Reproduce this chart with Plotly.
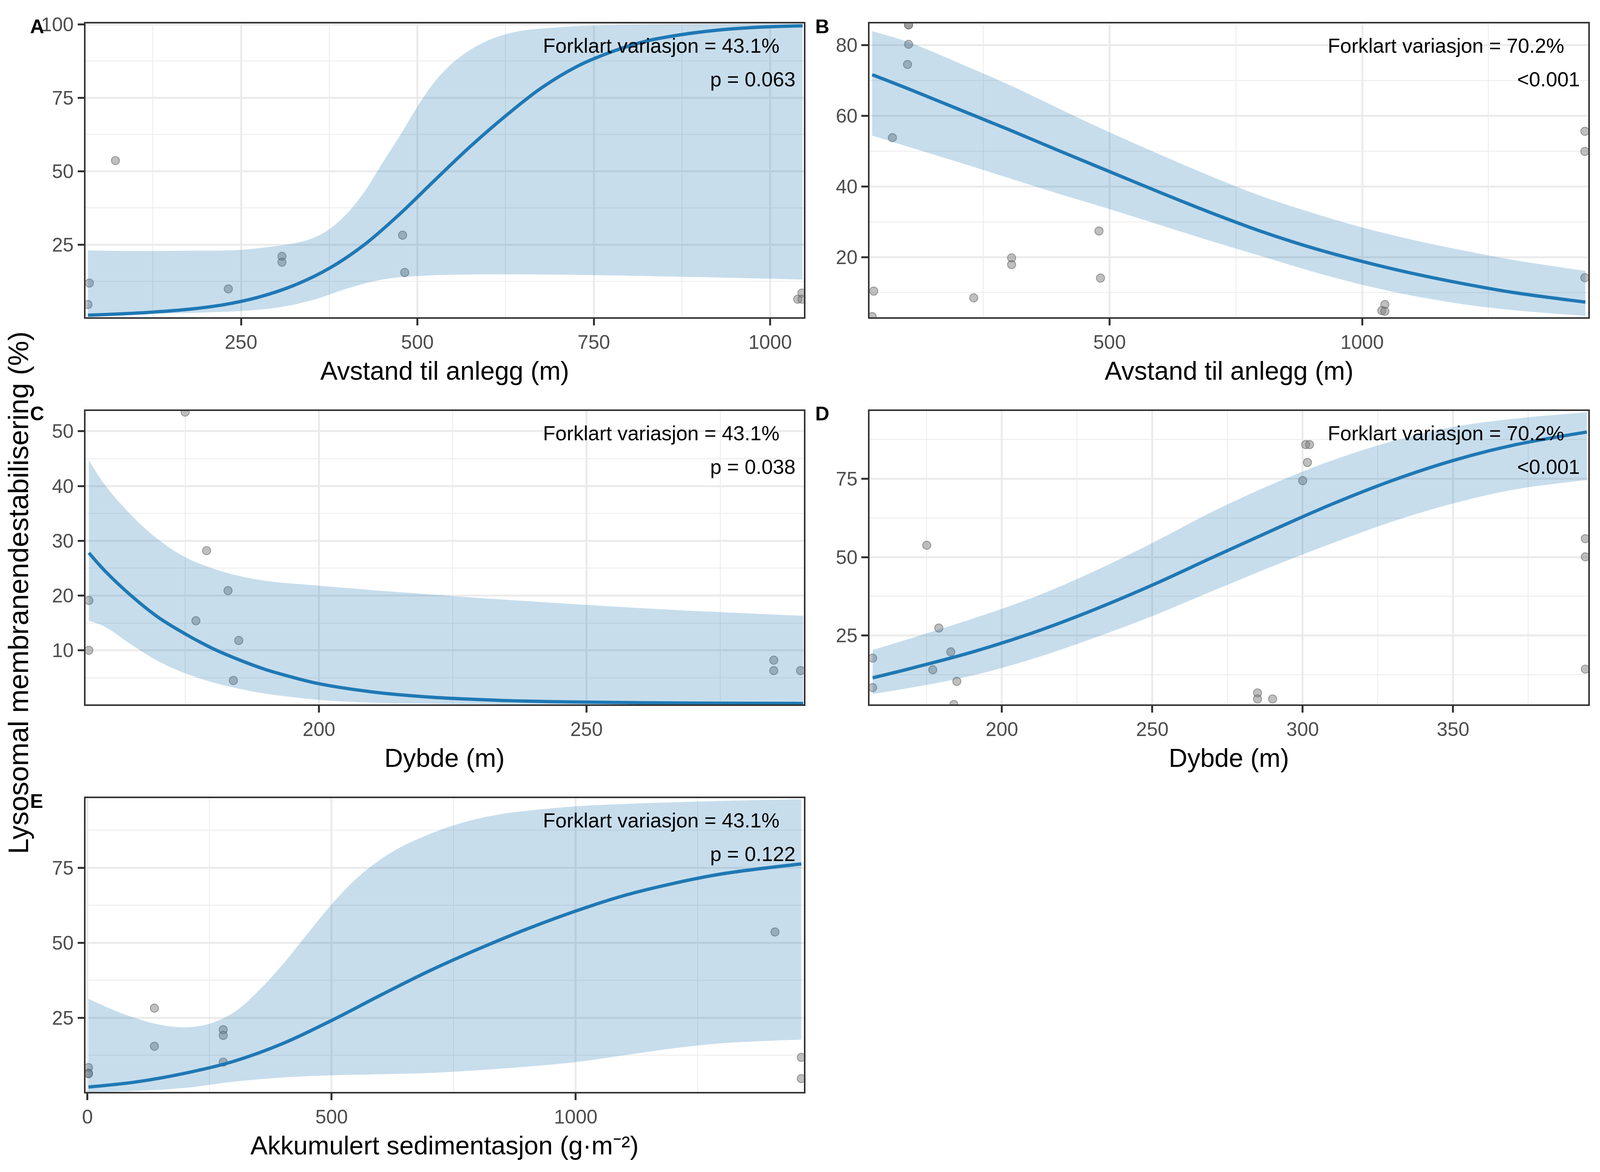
import plotly.graph_objects as go

# ---------------- data ----------------
# Panel A: Avstand til anlegg (m)
a_pts_x = [33, 35, 72, 232, 308, 308, 479, 482, 1039, 1045, 1045]
a_pts_y = [4.6, 11.9, 53.6, 9.9, 21.0, 19.0, 28.2, 15.5, 6.4, 8.5, 6.4]
a_fit_x = [33, 75, 125, 175, 225, 275, 325, 375, 425, 475, 525, 575, 625, 675, 725, 775, 825, 875, 925, 975, 1046]
a_fit_y = [0.95, 1.35, 2.0, 2.95, 4.5, 7.1, 11.1, 16.9, 25.0, 35.4, 47.0, 58.4, 68.8, 78.2, 85.5, 90.6, 94.3, 96.5, 98.0, 98.9, 99.5]
a_up_x = [33, 100, 175, 250, 300, 325, 350, 375, 400, 425, 450, 475, 500, 525, 550, 575, 600, 625, 650, 700, 750, 850, 1046]
a_up_y = [23.0, 22.8, 22.9, 23.2, 24.5, 25.4, 27.0, 30.2, 35.5, 43.0, 52.6, 62.0, 72.0, 80.6, 86.9, 91.3, 94.5, 96.6, 97.9, 99.0, 99.6, 99.9, 99.97]
a_lo_x = [33, 125, 200, 250, 300, 350, 400, 450, 500, 575, 675, 800, 1046]
a_lo_y = [1.2, 1.45, 1.9, 2.4, 3.5, 6.0, 10.0, 13.1, 14.3, 14.8, 14.8, 14.4, 13.1]

# Panel B: Avstand til anlegg (m)
b_pts_x = [102, 102, 102, 100, 70, 33, 30, 231, 306, 306, 479, 482, 1045, 1039, 1045, 1441, 1441, 1441]
b_pts_y = [85.7, 85.7, 80.2, 74.5, 53.8, 10.4, 3.2, 8.5, 19.8, 17.9, 27.4, 14.1, 6.6, 4.9, 4.7, 55.6, 49.9, 14.2]
b_x = [30, 100, 200, 300, 400, 500, 600, 700, 800, 900, 1000, 1100, 1200, 1300, 1442]
b_fit_y = [71.6, 67.7, 61.9, 56.1, 50.1, 44.2, 38.3, 32.6, 27.3, 22.7, 18.8, 15.4, 12.5, 10.0, 7.3]
b_up_y = [83.9, 80.9, 75.0, 68.8, 62.0, 55.3, 49.0, 42.9, 37.3, 32.6, 28.4, 24.9, 21.9, 19.2, 16.1]
b_lo_y = [54.4, 51.3, 46.9, 42.4, 37.9, 33.6, 29.1, 24.6, 20.3, 16.0, 12.2, 9.1, 6.7, 5.0, 3.4]

# Panel C: Dybde (m)
c_pts_x = [175, 179, 183, 157, 177, 185, 157, 184, 285, 285, 290]
c_pts_y = [53.5, 28.2, 20.9, 19.1, 15.4, 11.8, 10.0, 4.5, 8.2, 6.3, 6.3]
c_fit_x = [157, 160, 165, 170, 175, 180, 185, 190, 195, 200, 210, 220, 230, 240, 250, 265, 280, 290.5]
c_fit_y = [27.8, 24.5, 19.9, 16.0, 13.0, 10.4, 8.3, 6.5, 5.1, 3.9, 2.4, 1.5, 1.0, 0.7, 0.55, 0.4, 0.33, 0.3]
c_up_x = [157, 160, 165, 170, 175, 180, 185, 190, 200, 210, 225, 250, 270, 290.5]
c_up_y = [44.7, 40.2, 34.6, 30.2, 27.0, 25.0, 23.6, 22.7, 21.8, 21.0, 19.9, 18.3, 17.2, 16.3]
c_lo_x = [157, 160, 165, 170, 175, 180, 185, 190, 200, 210, 225, 250, 290.5]
c_lo_y = [15.4, 14.3, 11.0, 8.0, 5.8, 4.2, 3.0, 2.1, 0.95, 0.45, 0.2, 0.12, 0.1]

# Panel D: Dybde (m)
d_pts_x = [157, 157, 175, 179, 177, 183, 185, 184, 285, 285, 290, 300, 301.6, 301, 302.3, 394, 394, 394]
d_pts_y = [17.8, 8.4, 53.8, 27.4, 14.1, 19.8, 10.4, 3.0, 6.7, 4.8, 4.8, 74.4, 80.2, 85.9, 85.9, 55.9, 50.1, 14.3]
d_x = [157, 170, 190, 210, 230, 250, 270, 290, 310, 330, 350, 370, 394.5]
d_fit_y = [11.5, 14.6, 19.7, 25.8, 33.0, 41.1, 49.9, 58.6, 67.0, 74.5, 80.8, 85.7, 89.9]
d_up_y = [20.4, 24.2, 30.3, 37.0, 45.2, 54.5, 64.5, 73.3, 80.9, 87.0, 91.5, 94.1, 96.2]
d_lo_y = [6.4, 8.4, 12.2, 17.5, 24.0, 31.2, 39.2, 47.1, 54.5, 61.4, 67.1, 71.5, 74.6]

# Panel E: Akkumulert sedimentasjon (g·m⁻²)
e_pts_x = [2, 2, 2, 137, 137, 278, 278, 278, 1408, 1462, 1462]
e_pts_y = [8.4, 6.5, 6.3, 28.2, 15.5, 21.0, 19.1, 10.2, 53.6, 11.8, 4.7]
e_x = [2, 100, 200, 300, 400, 500, 600, 700, 800, 900, 1000, 1100, 1200, 1300, 1462]
e_fit_y = [1.9, 3.6, 6.5, 10.5, 16.4, 24.1, 32.5, 40.6, 47.9, 54.6, 60.6, 65.8, 69.8, 73.0, 76.3]
e_lo_y = [0.2, 0.6, 1.6, 3.7, 5.1, 5.8, 6.15, 6.6, 7.5, 8.7, 10.2, 12.5, 14.8, 16.5, 17.7]
e_up_x = [2, 50, 100, 150, 200, 250, 300, 350, 400, 450, 500, 550, 600, 650, 700, 750, 800, 850, 900, 1000, 1100, 1250, 1462]
e_up_y = [31.3, 27.8, 24.8, 22.6, 21.8, 23.0, 26.8, 33.9, 42.8, 52.9, 62.8, 71.3, 77.8, 82.6, 86.2, 89.2, 91.4, 93.0, 94.0, 95.5, 96.3, 97.1, 97.9]

panel_letters = ["A", "B", "C", "D", "E"]
x_titles = ["Avstand til anlegg (m)", "Avstand til anlegg (m)", "Dybde (m)", "Dybde (m)",
            "Akkumulert sedimentasjon (g·m⁻²)"]
r2_labels = ["Forklart variasjon = 43.1%", "Forklart variasjon = 70.2%", "Forklart variasjon = 43.1%",
             "Forklart variasjon = 70.2%", "Forklart variasjon = 43.1%"]
p_labels = ["p = 0.063", "<0.001", "p = 0.038", "<0.001", "p = 0.122"]
y_title = "Lysosomal membranendestabilisering (%)"

# ---------------- figure ----------------
FONT = "Liberation Sans, Arial, sans-serif"
LINE = "#1F78B4"
RIBBON = "rgba(31,120,180,0.25)"

# page size actually available (viewport 4096 x 3000, body margin 8 px)
W, H, PAD = 4080, 2984, 8
REF_W, REF_H = 4800, 3000


def fx(px):  # reference pixel column -> paper x
    return (px / REF_W * (W + 2 * PAD) - PAD) / W


def fy(py):  # reference pixel row -> paper y
    return 1 - (py / REF_H * (H + 2 * PAD) - PAD) / H


panels = [
    dict(pts=(a_pts_x, a_pts_y), fit=(a_fit_x, a_fit_y), up=(a_up_x, a_up_y), lo=(a_lo_x, a_lo_y),
         xr=[29.8, 1047.6], yr=[0.24, 100.25], xd=250, yd=25),
    dict(pts=(b_pts_x, b_pts_y), fit=(b_x, b_fit_y), up=(b_x, b_up_y), lo=(b_x, b_lo_y),
         xr=[24.9, 1447.9], yr=[3.0, 86.07], xd=500, yd=20),
    dict(pts=(c_pts_x, c_pts_y), fit=(c_fit_x, c_fit_y), up=(c_up_x, c_up_y), lo=(c_lo_x, c_lo_y),
         xr=[156.4, 290.6], yr=[0.1, 53.7], xd=50, yd=10),
    dict(pts=(d_pts_x, d_pts_y), fit=(d_x, d_fit_y), up=(d_x, d_up_y), lo=(d_x, d_lo_y),
         xr=[156.0, 395.0], yr=[3.0, 96.6], xd=50, yd=25),
    dict(pts=(e_pts_x, e_pts_y), fit=(e_x, e_fit_y), up=(e_up_x, e_up_y), lo=(e_x, e_lo_y),
         xr=[-3.7, 1467.0], yr=[0.3, 98.2], xd=500, yd=25),
]

col_dom = [[fx(247), fx(2406)], [fx(2604), fx(4765)]]
row_dom = [[fy(793), fy(34.5)], [fy(1793), fy(1035)], [fy(2793), fy(2035)]]
letter_x = [fx(78), fx(2438)]

fig = go.Figure()
layout = dict(
    width=W, height=H, margin=dict(l=0, r=0, t=0, b=0),
    paper_bgcolor="white", plot_bgcolor="white",
    font=dict(family=FONT, color="black"),
    showlegend=False,
)
annotations = []

for i, p in enumerate(panels):
    n = "" if i == 0 else str(i + 1)
    xa, ya = "x" + n, "y" + n
    row, col = i // 2, i % 2

    fig.add_trace(go.Scatter(
        x=p["pts"][0], y=p["pts"][1], mode="markers", xaxis=xa, yaxis=ya,
        marker=dict(size=21, color="rgba(128,128,128,0.5)",
                    line=dict(color="rgba(95,95,95,0.55)", width=2.2)),
        hoverinfo="skip"))
    fig.add_trace(go.Scatter(
        x=p["lo"][0], y=p["lo"][1], mode="lines", xaxis=xa, yaxis=ya,
        line=dict(width=0, shape="spline", smoothing=1, color=RIBBON), hoverinfo="skip"))
    fig.add_trace(go.Scatter(
        x=p["up"][0], y=p["up"][1], mode="lines", xaxis=xa, yaxis=ya, fill="tonexty",
        fillcolor=RIBBON, line=dict(width=0, shape="spline", smoothing=1, color=RIBBON),
        hoverinfo="skip"))
    fig.add_trace(go.Scatter(
        x=p["fit"][0], y=p["fit"][1], mode="lines", xaxis=xa, yaxis=ya,
        line=dict(width=8.5, color=LINE, shape="spline", smoothing=1), hoverinfo="skip"))

    common = dict(
        showgrid=True, gridcolor="#EBEBEB", gridwidth=4.5, zeroline=False,
        showline=True, linecolor="#333333", linewidth=3.6, mirror=True,
        ticks="outside", ticklen=17, tickwidth=4.5, tickcolor="#333333",
        tickfont=dict(size=50, color="#4D4D4D", family=FONT),
        autorange=False, tick0=0,
    )
    xaxis = dict(common, domain=col_dom[col], anchor=ya, range=p["xr"], dtick=p["xd"],
                 minor=dict(dtick=p["xd"] / 2, tick0=0, showgrid=True, gridcolor="#EBEBEB",
                            gridwidth=2.4, ticks=""))
    yaxis = dict(common, domain=row_dom[row], anchor=xa, range=p["yr"], dtick=p["yd"],
                 minor=dict(dtick=p["yd"] / 2, tick0=0, showgrid=True, gridcolor="#EBEBEB",
                            gridwidth=2.4, ticks=""))
    layout["xaxis" + n] = xaxis
    layout["yaxis" + n] = yaxis

    xd, yd = xa + " domain", ya + " domain"
    annotations += [
        dict(text=r2_labels[i], xref=xd, yref=yd, x=1 - 70 / 2160, y=1 - 57 / 758,
             xanchor="right", yanchor="middle", showarrow=False, font=dict(size=52, color="black")),
        dict(text=p_labels[i], xref=xd, yref=yd, x=1 - 23 / 2160, y=1 - 144 / 758,
             xanchor="right", yanchor="middle", showarrow=False, font=dict(size=52, color="black")),
        dict(text="<b>" + panel_letters[i] + "</b>", xref="paper", yref=yd, x=letter_x[col],
             y=1 - 7.5 / 758, xanchor="left", yanchor="middle", showarrow=False,
             font=dict(size=50, color="black")),
        dict(text=x_titles[i], xref=xd, yref=yd, x=0.5, y=-138 / 758,
             xanchor="center", yanchor="middle", showarrow=False, font=dict(size=66, color="black")),
    ]

annotations.append(dict(text=y_title, xref="paper", yref="paper", x=fx(45), y=fy(1504),
                        xanchor="center", yanchor="middle", textangle=-90, showarrow=False,
                        font=dict(size=72, color="black")))
layout["annotations"] = annotations
fig.update_layout(**layout)
fig.write_html("out.html")
